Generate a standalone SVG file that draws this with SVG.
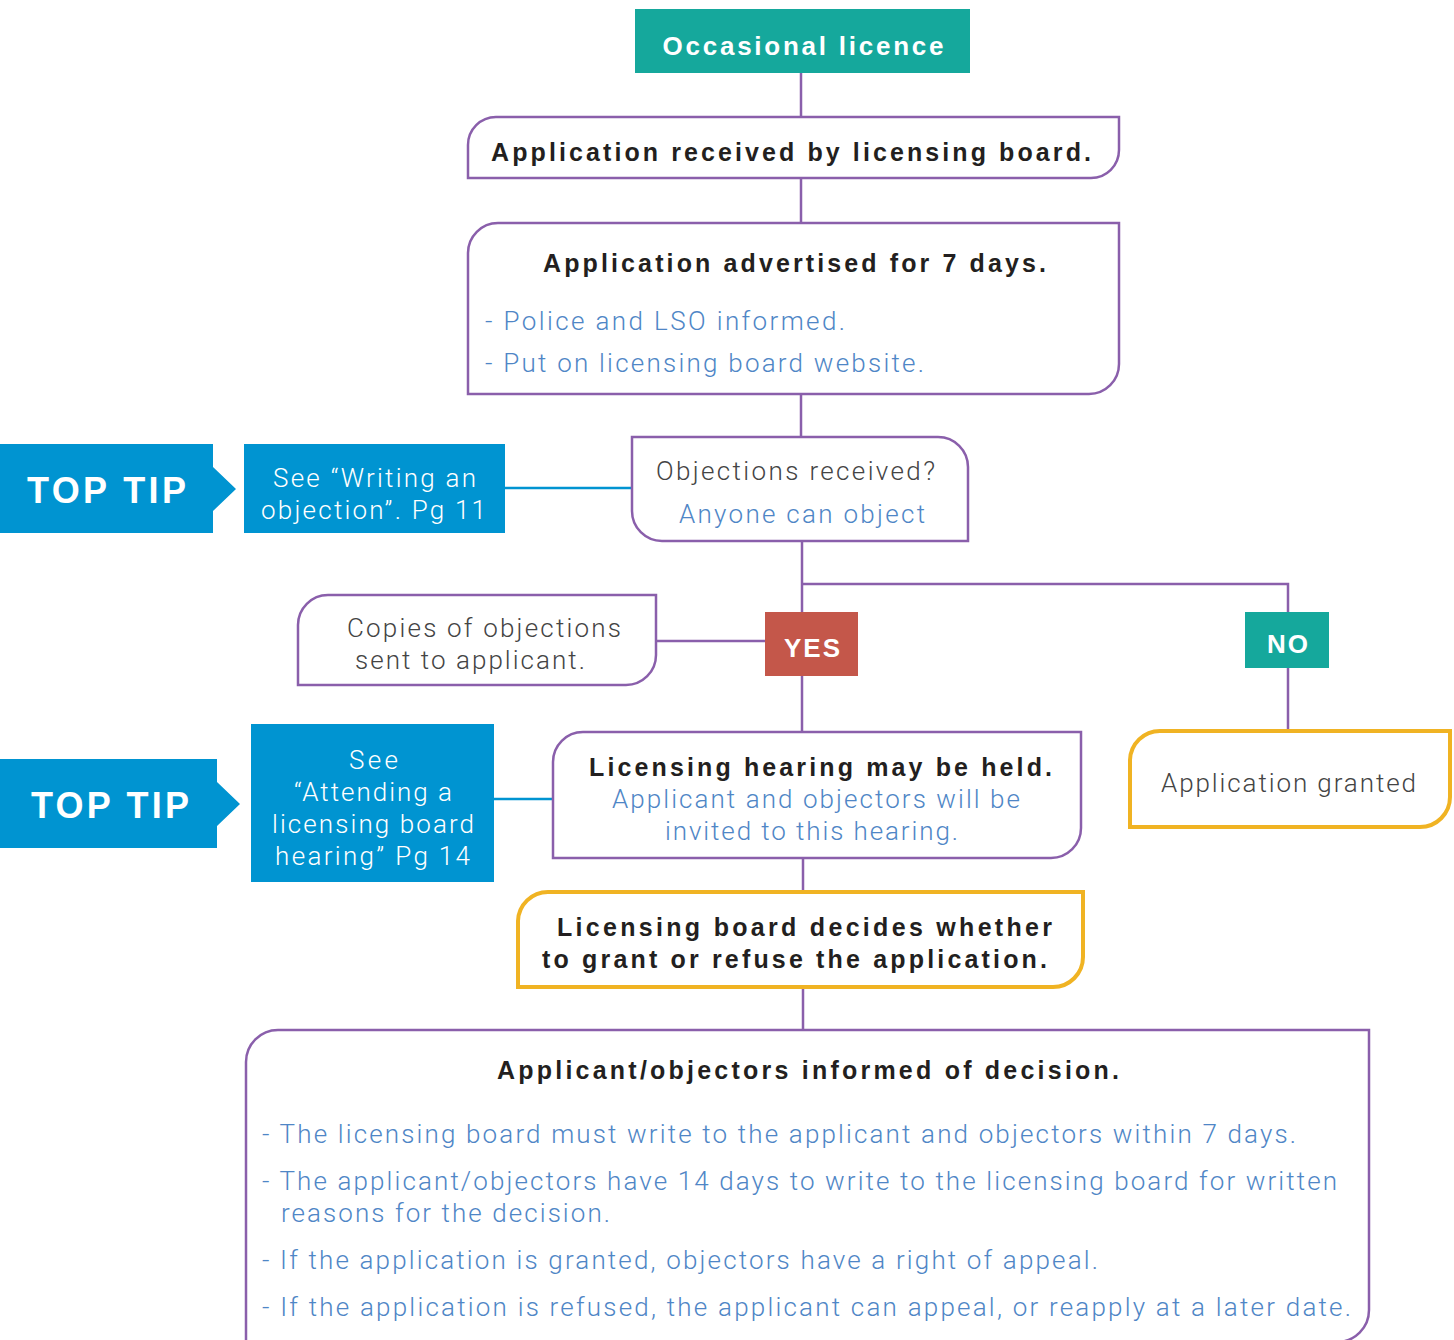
<svg xmlns="http://www.w3.org/2000/svg" width="1454" height="1340" viewBox="0 0 1454 1340">
<style>
.box{fill:#fff;stroke:#8a5fab;stroke-width:2.5}
.ybox{fill:#fff;stroke:#f0b323;stroke-width:4}
.line{fill:none;stroke:#8a5fab;stroke-width:2.5}
.bline{fill:none;stroke:#0094d1;stroke-width:2.5}
.b{font-family:"Liberation Sans",Arial,sans-serif;font-weight:bold;font-size:25px;fill:#231f20}
.w{font-family:"Liberation Sans",Arial,sans-serif;font-weight:bold;fill:#fff}
.l{font-family:Roboto,"Liberation Sans",sans-serif;font-weight:300;font-size:26px;fill:#4f86c6}
.g{font-family:Roboto,"Liberation Sans",sans-serif;font-weight:300;font-size:26px;fill:#444}
.tw{font-family:Roboto,"Liberation Sans",sans-serif;font-weight:300;font-size:26px;fill:#fff}
</style>
<g id="connectors">
<path class="line" d="M801 73V117M801 178V223M801 394V437M802 541V732M802 584H1288V612M1288 668V730M656 641H765M803 858V891M803 987V1030"/>
<path class="bline" d="M505 488H632M494 799H553"/>
</g>
<g id="occasional">
<rect x="635" y="9" width="335" height="64" fill="#15a89c"/>
<text class="w" x="803" y="55" font-size="26" text-anchor="middle" textLength="281" lengthAdjust="spacing">Occasional licence</text>
</g>
<g id="received">
<path class="box" d="M468 145A28 28 0 0 1 496 117H1119V150A28 28 0 0 1 1091 178H468Z"/>
<text class="b" x="791" y="161" text-anchor="middle" textLength="600" lengthAdjust="spacing">Application received by licensing board.</text>
</g>
<g id="advertised">
<path class="box" d="M468 253A30 30 0 0 1 498 223H1119V364A30 30 0 0 1 1089 394H468Z"/>
<text class="b" x="794.5" y="272" text-anchor="middle" textLength="503" lengthAdjust="spacing">Application advertised for 7 days.</text>
<text class="l" x="485" y="330" textLength="360" lengthAdjust="spacing">- Police and LSO informed.</text>
<text class="l" x="485" y="372" textLength="439" lengthAdjust="spacing">- Put on licensing board website.</text>
</g>
<g id="tip1">
<path d="M0 444H213V467L236 489L213 511V533H0Z" fill="#0094d1"/>
<text class="w" x="106.5" y="503" font-size="36" text-anchor="middle" textLength="159" lengthAdjust="spacing">TOP TIP</text>
</g>
<g id="tipbox1">
<rect x="244" y="444" width="261" height="89" fill="#0094d1"/>
<text class="tw" x="374.5" y="487" text-anchor="middle" textLength="203" lengthAdjust="spacing">See “Writing an</text>
<text class="tw" x="373.5" y="519" text-anchor="middle" textLength="225" lengthAdjust="spacing">objection”. Pg 11</text>
</g>
<g id="objections">
<path class="box" d="M632 437H938A30 30 0 0 1 968 467V541H662A30 30 0 0 1 632 511Z"/>
<text class="g" x="795.5" y="480" text-anchor="middle" textLength="279" lengthAdjust="spacing">Objections received?</text>
<text class="l" x="802" y="523" text-anchor="middle" textLength="246" lengthAdjust="spacing">Anyone can object</text>
</g>
<g id="copies">
<path class="box" d="M298 625A30 30 0 0 1 328 595H656V655A30 30 0 0 1 626 685H298Z"/>
<text class="g" x="484" y="637" text-anchor="middle" textLength="274" lengthAdjust="spacing">Copies of objections</text>
<text class="g" x="470" y="669" text-anchor="middle" textLength="230" lengthAdjust="spacing">sent to applicant.</text>
</g>
<g id="yes">
<rect x="765" y="612" width="93" height="64" fill="#c4574a"/>
<text class="w" x="812" y="657" font-size="26" text-anchor="middle" textLength="56" lengthAdjust="spacing">YES</text>
</g>
<g id="no">
<rect x="1245" y="612" width="84" height="56" fill="#15a89c"/>
<text class="w" x="1287.5" y="653" font-size="26" text-anchor="middle" textLength="41" lengthAdjust="spacing">NO</text>
</g>
<g id="granted">
<path class="ybox" d="M1130 760A30 30 0 0 1 1160 731H1450V797A30 30 0 0 1 1420 827H1130Z"/>
<text class="g" x="1288.5" y="792" text-anchor="middle" textLength="255" lengthAdjust="spacing">Application granted</text>
</g>
<g id="tip2">
<path d="M0 759H217V782L240 804L217 826V848H0Z" fill="#0094d1"/>
<text class="w" x="110" y="818" font-size="36" text-anchor="middle" textLength="158" lengthAdjust="spacing">TOP TIP</text>
</g>
<g id="tipbox2">
<rect x="251" y="724" width="243" height="158" fill="#0094d1"/>
<text class="tw" x="373.5" y="769" text-anchor="middle" textLength="49" lengthAdjust="spacing">See</text>
<text class="tw" x="373" y="801" text-anchor="middle" textLength="158" lengthAdjust="spacing">“Attending a</text>
<text class="tw" x="373" y="833" text-anchor="middle" textLength="202" lengthAdjust="spacing">licensing board</text>
<text class="tw" x="372.5" y="865" text-anchor="middle" textLength="195" lengthAdjust="spacing">hearing” Pg 14</text>
</g>
<g id="hearing">
<path class="box" d="M553 762A30 30 0 0 1 583 732H1081V828A30 30 0 0 1 1051 858H553Z"/>
<text class="b" x="820.5" y="776" text-anchor="middle" textLength="463" lengthAdjust="spacing">Licensing hearing may be held.</text>
<text class="l" x="816" y="808" text-anchor="middle" textLength="408" lengthAdjust="spacing">Applicant and objectors will be</text>
<text class="l" x="811.5" y="840" text-anchor="middle" textLength="293" lengthAdjust="spacing">invited to this hearing.</text>
</g>
<g id="decides">
<path class="ybox" d="M518 921A30 30 0 0 1 548 892H1083V957A30 30 0 0 1 1053 987H518Z"/>
<text class="b" x="804.5" y="936" text-anchor="middle" textLength="495" lengthAdjust="spacing">Licensing board decides whether</text>
<text class="b" x="794.5" y="968" text-anchor="middle" textLength="505" lengthAdjust="spacing">to grant or refuse the application.</text>
</g>
<g id="informed">
<path class="box" d="M246 1062A32 32 0 0 1 278 1030H1369V1310A32 32 0 0 1 1337 1342H246Z"/>
<text class="b" x="808" y="1079" text-anchor="middle" textLength="622" lengthAdjust="spacing">Applicant/objectors informed of decision.</text>
<text class="l" x="262" y="1143" textLength="1034" lengthAdjust="spacing">- The licensing board must write to the applicant and objectors within 7 days.</text>
<text class="l" x="262" y="1190" textLength="1075" lengthAdjust="spacing">- The applicant/objectors have 14 days to write to the licensing board for written</text>
<text class="l" x="281" y="1222" textLength="329" lengthAdjust="spacing">reasons for the decision.</text>
<text class="l" x="262" y="1269" textLength="836" lengthAdjust="spacing">- If the application is granted, objectors have a right of appeal.</text>
<text class="l" x="262" y="1316" textLength="1089" lengthAdjust="spacing">- If the application is refused, the applicant can appeal, or reapply at a later date.</text>
</g>
</svg>
